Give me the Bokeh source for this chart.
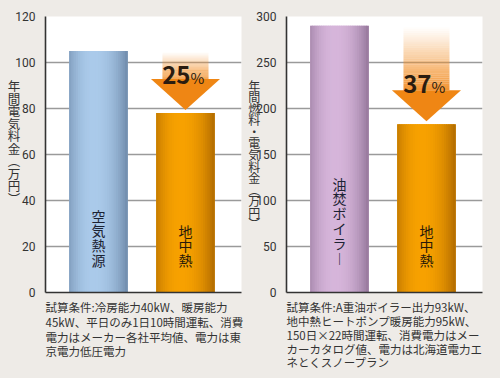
from bokeh.plotting import figure
from bokeh.layouts import row
from bokeh.models import Range1d, Label, FixedTicker, Title
from bokeh.embed import file_html
from bokeh.resources import INLINE

# ---------------- data ----------------
left_categories = ["空気熱源", "地中熱"]
left_values = [105, 78]
left_ticks = [0, 20, 40, 60, 80, 100, 120]
left_ymax = 120
left_ylabel = "年間電気料金（万円）"
left_reduction = "25"
left_note = [
    "試算条件:冷房能力40kW、暖房能力",
    "45kW、平日のみ1日10時間運転、消費",
    "電力はメーカー各社平均値、電力は東",
    "京電力低圧電力",
]

right_categories = ["油焚ボイラー", "地中熱"]
right_values = [290, 183]
right_ticks = [0, 50, 100, 150, 200, 250, 300]
right_ymax = 300
right_ylabel = "年間燃料・電気料金（万円）"
right_reduction = "37"
right_note = [
    "試算条件:A重油ボイラー出力93kW、",
    "地中熱ヒートポンプ暖房能力95kW、",
    "150日×22時間運転、消費電力はメー",
    "カーカタログ値、電力は北海道電力エ",
    "ネとくスノープラン",
]

# ---------------- styling ----------------
BG = "#eeebe7"
JP = "Noto Sans CJK JP"
BLUE = ((112, 140, 172), (170, 202, 234))
PURPLE = ((150, 120, 156), (214, 181, 218))
ORANGE = ((178, 108, 0), (247, 161, 0))
ARROW = "#f2902a"
VMAP = {"（": "︵", "）": "︶", "ー": "︱"}


def vertical(s, pad=0):
    return "\n".join([VMAP.get(c, c) for c in s] + ["\u3000"] * pad)


def shade(edge, center, t):
    peak = 0.42
    if t < peak:
        d = (peak - t) / peak * 0.85
    else:
        d = (t - peak) / (1 - peak)
    f = 1 - d ** 2.2
    c = [int(round(e + (m - e) * f)) for e, m in zip(edge, center)]
    return "#%02x%02x%02x" % tuple(c)


def panel(cats, vals, ticks, ymax, ylabel, reduction, note, colors, fig_w,
          mb_left, mb_right, ylabel_standoff, ylabel_pad, bar_label_tops,
          note_lh, ylabel_size, ylabel_lh, pct_dy):
    p = figure(width=fig_w, height=378, output_backend="svg", toolbar_location=None,
               x_range=Range1d(0.391, 2.644), y_range=Range1d(0, ymax),
               min_border_left=mb_left, min_border_right=mb_right,
               min_border_top=16, min_border_bottom=86)
    p.border_fill_color = BG
    p.background_fill_color = "white"
    p.outline_line_color = None
    p.xgrid.grid_line_color = None
    p.ygrid.grid_line_color = "#9a9a9a"
    p.ygrid.grid_line_width = 1.7
    p.ygrid.ticker = FixedTicker(ticks=ticks)

    p.yaxis.ticker = FixedTicker(ticks=ticks)
    p.yaxis.major_tick_line_color = None
    p.yaxis.minor_tick_line_color = None
    p.yaxis.axis_line_color = "#333333"
    p.yaxis.axis_line_width = 1.6
    p.yaxis.major_label_text_font = "Roboto"
    p.yaxis.major_label_text_font_size = "12px"
    p.yaxis.major_label_text_color = "#333333"
    p.yaxis.major_label_standoff = 4
    p.yaxis.axis_label = vertical(ylabel, ylabel_pad)
    p.yaxis.axis_label_orientation = "horizontal"
    p.yaxis.axis_label_text_font = JP
    p.yaxis.axis_label_text_font_style = "normal"
    p.yaxis.axis_label_text_font_size = ylabel_size
    p.yaxis.axis_label_text_line_height = ylabel_lh
    p.yaxis.axis_label_text_color = "#333333"
    p.yaxis.axis_label_standoff = ylabel_standoff

    p.xaxis.ticker = FixedTicker(ticks=[])
    p.xaxis.major_tick_line_color = None
    p.xaxis.minor_tick_line_color = None
    p.xaxis.axis_line_color = "#333333"
    p.xaxis.axis_line_width = 1.6

    xs = [1, 2]
    width = 0.667
    n = 26
    p.vbar(x=xs, top=vals, bottom=0, width=width,
           fill_color=[shade(c[0], c[1], 0.5) for c in colors], line_color=None)
    sx, stop, sc = [], [], []
    for i, (xc, v) in enumerate(zip(xs, vals)):
        edge, center = colors[i]
        for k in range(n):
            t = (k + 0.5) / n
            sx.append(xc - width / 2 + t * width)
            stop.append(v)
            sc.append(shade(edge, center, t))
    p.vbar(x=sx, top=stop, bottom=0, width=width / n * 1.35, fill_color=sc,
           line_color=None)

    # reduction arrow from first bar's level down to second bar
    ppu = 276.0 / ymax
    tip = vals[1] + 3 / ppu
    base = vals[1] + 34 / ppu
    stop_y = vals[0] - 1 / ppu
    m = 30
    lefts, rights, bots, tops, alphas = [], [], [], [], []
    for k in range(m):
        b = base + (stop_y - base) * k / m
        tt = base + (stop_y - base) * (k + 1) / m
        lefts.append(xs[1] - 0.2645)
        rights.append(xs[1] + 0.2645)
        bots.append(b)
        tops.append(tt)
        s = (k + 0.5) / m
        alphas.append(max(0.0, 0.97 * (1 - s) ** 1.1))
    p.quad(left=lefts, right=rights, bottom=bots, top=tops, fill_color=ARROW,
           fill_alpha=alphas, line_color=None)
    p.patch(x=[xs[1] - 0.397, xs[1] + 0.397, xs[1]], y=[base, base, tip],
            fill_color="#ef8614", line_color=None)

    p.add_layout(Label(x=xs[1], y=base, text=reduction, text_align="right",
                       text_baseline="middle", x_offset=5, y_offset=pct_dy,
                       text_font=JP, text_font_style="bold", text_font_size="24px",
                       text_color="#2a1c10"))
    p.add_layout(Label(x=xs[1], y=base, text="%", text_align="left",
                       text_baseline="middle", x_offset=5, y_offset=pct_dy - 2,
                       text_font=JP, text_font_size="15px", text_color="#2a1c10"))

    # bar labels (vertical writing)
    for i, (xc, cat) in enumerate(zip(xs, cats)):
        p.add_layout(Label(x=xc, y=bar_label_tops[i], y_units="screen",
                           text=vertical(cat), text_align="center", text_baseline="top",
                           text_font=JP, text_font_size="14px", text_line_height=0.74,
                           text_color="#1c2333" if i == 0 else "#2a1a08"))

    # conditions note below the chart
    p.add_layout(Title(text="\n".join(note), align="left", text_font=JP,
                       text_font_style="normal", text_font_size="11.5px",
                       text_line_height=note_lh, text_color="#333333",
                       standoff=10, offset=0), "below")
    return p


p1 = panel(left_categories, left_values, left_ticks, left_ymax, left_ylabel,
           left_reduction, left_note, [BLUE, ORANGE], 245, 45, 4, -8, 2, [87, 72],
           0.92, "12.5px", 0.66, 4)
p2 = panel(right_categories, right_values, right_ticks, right_ymax, right_ylabel,
           right_reduction, right_note, [PURPLE, ORANGE], 255, 41, 18, -7, 0, [119, 72],
           0.86, "12px", 0.68, 6)

p = row(p1, p2, spacing=0)
p.background = BG
open("out.html", "w").write(file_html(p, INLINE))
